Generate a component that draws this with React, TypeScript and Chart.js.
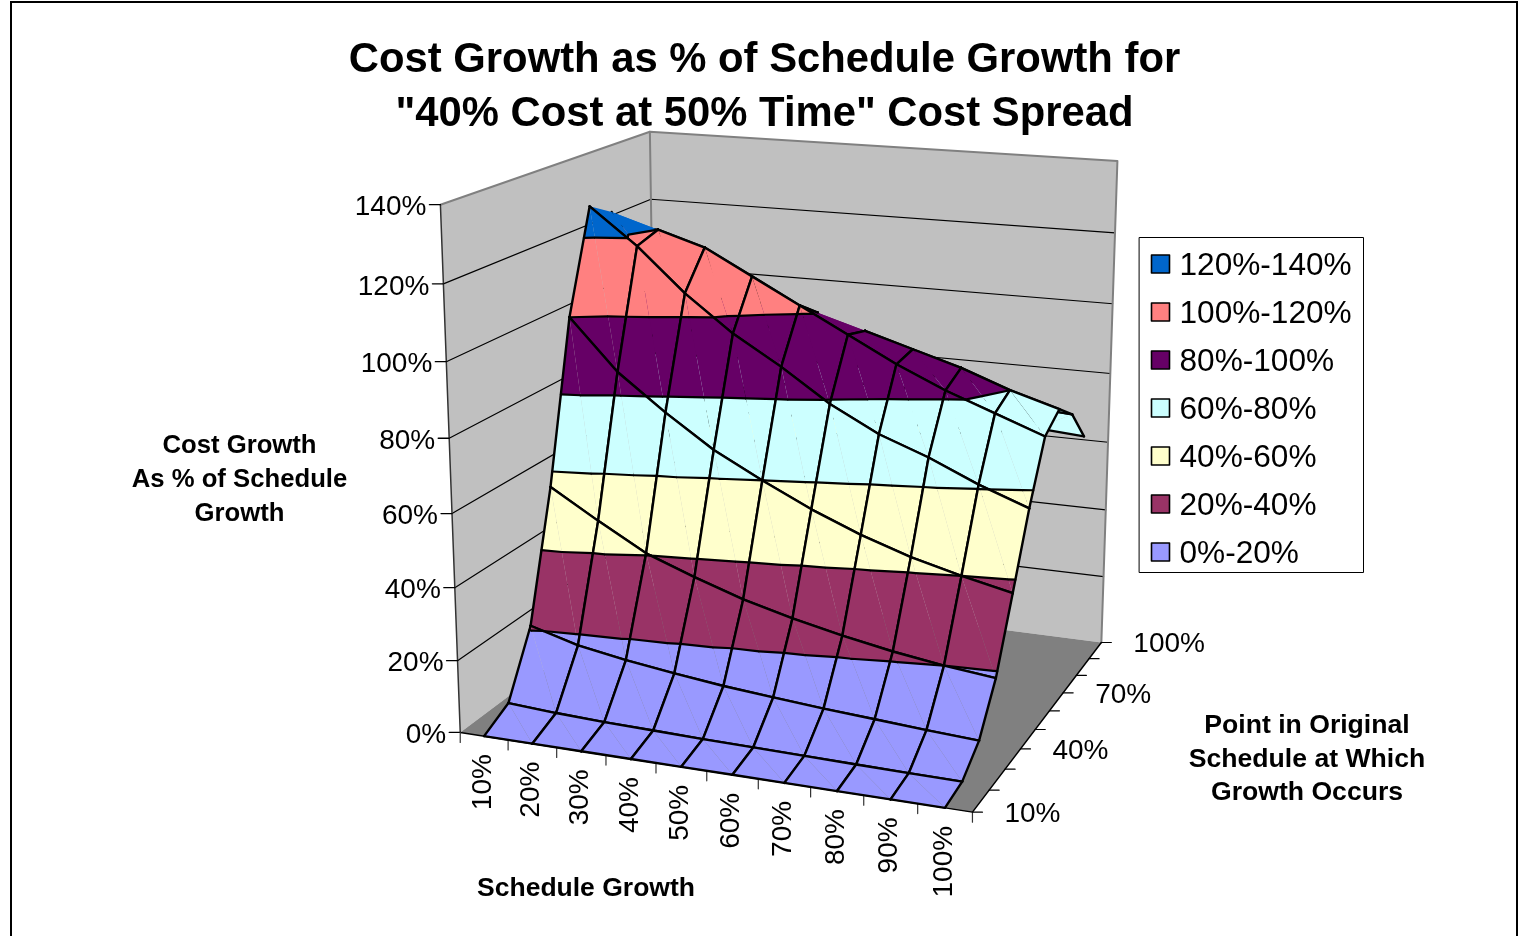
import React, { useEffect, useRef } from "react";
import { Chart, registerables } from "chart.js";
Chart.register(...registerables);

const titleLines = ["Cost Growth as % of Schedule Growth for", '"40% Cost at 50% Time" Cost Spread'];
const scheduleGrowth = ["10%","20%","30%","40%","50%","60%","70%","80%","90%","100%"];
const growthPoint = ["10%","20%","30%","40%","50%","60%","70%","80%","90%","100%"];
const costTicks = ["0%","20%","40%","60%","80%","100%","120%","140%"];
const bandLabels = ["0%-20%","20%-40%","40%-60%","60%-80%","80%-100%","100%-120%","120%-140%"];
const bandColors = ["#9999FF","#993366","#FFFFCC","#CCFFFF","#660066","#FF8080","#0066CC"];
const costTitle = ["Cost Growth","As % of Schedule","Growth"];
const pointTitle = ["Point in Original","Schedule at Which","Growth Occurs"];
const scheduleTitle = "Schedule Growth";

// Cost growth (%) per schedule growth column, one list per growth point
const at10 = [0,0,0,0,0,0,0,0,0,0];
const at20 = [4,3.2,2.7,2.4,2.1,1.9,1.7,1.5,1.3,1.2];
const at30 = [21,17.3,15,13.2,11.6,10.4,9.3,8.4,7.5,6.7];
const at40 = [56,48,40.5,35.5,31,27.5,24.5,22,20,18.5];
const at50 = [100,86,76,67,60,53.5,48,43.5,40,37];
const at60 = [128,118,106,96,88,79,72,67,61,56];
const at70 = [124,120,116,109,102,95,88,82,77,72];
const at80 = [85,88,90,92,97,93,89,85,80,76];
const at90 = [60,64,68,72,74,74,74,73,72,71];
const at100 = [45,47,50,52,55,56,58,59,62,61];
const surface = [at10,at20,at30,at40,at50,at60,at70,at80,at90,at100];

// Grid edges the surface leaves without an outline
const openEdges = new Set(["r6:0","c0:5","r7:4"]);

const costMax = 140;
// Known box positions [unit coordinates, canvas position] that fix the perspective
const boxAnchors: number[][] = [
  [0,0,0,461,733],[0,0,1/7,458,661],[0,0,2/7,455,588],[0,0,3/7,452,513],[0,0,4/7,449,437],[0,0,5/7,447,360],[0,0,6/7,443,284],[0,0,1,441,206],
  [0,1,1,650,131],[0,1,6/7,650,200],
  [1,1,1,1118,160],[1,1,6/7,1115,234],[1,1,5/7,1112,303],[1,1,4/7,1110,374],[1,1,3/7,1108,443],[1,1,2/7,1106,512],[1,1,1/7,1104,578],[1,1,0,1102,642],
  [.1,0,0,508,740],[.2,0,0,556,748],[.3,0,0,606,755],[.4,0,0,656,763],[.5,0,0,706,771],[.6,0,0,758,779],[.7,0,0,810,787],[.8,0,0,864,796],[.9,0,0,918,804],[1,0,0,972,812],
  [1,1/9,0,988,790],[1,2/9,0,1005,770],[1,3/9,0,1022,748],[1,4/9,0,1035,730],[1,5/9,0,1050,710],[1,6/9,0,1063,692],[1,7/9,0,1077,673],[1,8/9,0,1088,658],
];

// Least-squares 3x4 projection from the anchors
function solveCamera() {
  const n = 11;
  const A = Array.from({ length: n }, () => new Array(n + 1).fill(0));
  const add = (r: number[], b: number) => {
    for (let i = 0; i < n; i++) {
      for (let j = 0; j < n; j++) A[i][j] += r[i] * r[j];
      A[i][n] += r[i] * b;
    }
  };
  for (const [X, Y, Z, sx0, sy0] of boxAnchors) {
    const sx = sx0 / 1000, sy = sy0 / 1000;
    add([X,Y,Z,1,0,0,0,0,-sx*X,-sx*Y,-sx*Z], sx);
    add([0,0,0,0,X,Y,Z,1,-sy*X,-sy*Y,-sy*Z], sy);
  }
  for (let c = 0; c < n; c++) {
    let p = c;
    for (let r = c + 1; r < n; r++) if (Math.abs(A[r][c]) > Math.abs(A[p][c])) p = r;
    [A[c], A[p]] = [A[p], A[c]];
    for (let r = 0; r < n; r++) {
      if (r === c) continue;
      const f = A[r][c] / A[c][c];
      for (let k = c; k <= n; k++) A[r][k] -= f * A[c][k];
    }
  }
  return A.map((row, i) => row[n] / row[i]);
}
const M = solveCamera();
const project = (X: number, Y: number, Z: number) => {
  const d = M[8]*X + M[9]*Y + M[10]*Z + 1;
  return { x: 1000*(M[0]*X + M[1]*Y + M[2]*Z + M[3]) / d, y: 1000*(M[4]*X + M[5]*Y + M[6]*Z + M[7]) / d };
};

type V = { X: number; Y: number; W: number };
const gridV = (i: number, j: number): V => ({ X: (i + .5) / 10, Y: j / 9, W: surface[j][i] });
const lerpV = (a: V, b: V, t: number): V => ({ X: a.X + (b.X - a.X)*t, Y: a.Y + (b.Y - a.Y)*t, W: a.W + (b.W - a.W)*t });
function clip(p: V[], lim: number, keepBelow: boolean) {
  const out: V[] = [];
  const inside = (v: V) => keepBelow ? v.W <= lim : v.W >= lim;
  p.forEach((a, k) => {
    const b = p[(k + 1) % p.length];
    if (inside(a)) out.push(a);
    if (inside(a) !== inside(b)) out.push(lerpV(a, b, (lim - a.W) / (b.W - a.W)));
  });
  return out;
}
const band = (tri: V[], k: number) => {
  const p = clip(tri, k*20, false);
  return p.length ? clip(p, (k + 1)*20, true) : p;
};
const trianglesOf = (i: number, j: number) => {
  const a = gridV(i, j), b = gridV(i + 1, j), c = gridV(i + 1, j + 1), d = gridV(i, j + 1);
  return [[a, b, d], [b, c, d]];
};
const bandPoints = (k: number) => {
  const pts: { x: number; y: number }[] = [];
  for (let j = 0; j < 9; j++) for (let i = 0; i < 9; i++) for (const tri of trianglesOf(i, j))
    band(tri, k).forEach(v => pts.push(project(v.X, v.Y, v.W / costMax)));
  return pts;
};

const sans = "'Liberation Sans'";

const App = () => {
  const ref = useRef<HTMLCanvasElement>(null);
  useEffect(() => {
    document.body.style.margin = "0";
    const painter = {
      id: "surfacePainter",
      beforeDatasetsDraw(chart: any) {
        const ctx = chart.ctx;
        const toPx = (p: { x: number; y: number }) => [chart.scales.x.getPixelForValue(p.x), chart.scales.y.getPixelForValue(p.y)];
        const px = (X: number, Y: number, Z: number) => toPx(project(X, Y, Z));
        const poly = (pts: number[][], fill: string) => {
          ctx.beginPath();
          pts.forEach((q, i) => i ? ctx.lineTo(q[0], q[1]) : ctx.moveTo(q[0], q[1]));
          ctx.closePath(); ctx.fillStyle = fill; ctx.fill();
        };
        const line = (pts: number[][], c: string, w: number) => {
          ctx.beginPath();
          pts.forEach((q, i) => i ? ctx.lineTo(q[0], q[1]) : ctx.moveTo(q[0], q[1]));
          ctx.strokeStyle = c; ctx.lineWidth = w; ctx.stroke();
        };
        const text = (s: string, x: number, y: number, font: string, align: string) => {
          ctx.font = font; ctx.textAlign = align; ctx.textBaseline = "middle"; ctx.fillStyle = "#000";
          ctx.fillText(s, x, y);
        };
        ctx.save();
        ctx.lineJoin = "round"; ctx.lineCap = "round";

        // Chart frame
        ctx.fillStyle = "#000";
        ctx.fillRect(10, 1, 1508, 2); ctx.fillRect(10, 1, 2, 935); ctx.fillRect(1516, 1, 2, 935);

        // Walls, floor and gridlines
        poly([px(0,0,0),px(0,1,0),px(0,1,1),px(0,0,1)], "#C0C0C0");
        poly([px(0,1,0),px(1,1,0),px(1,1,1),px(0,1,1)], "#C0C0C0");
        poly([px(0,0,0),px(1,0,0),px(1,1,0),px(0,1,0)], "#808080");
        for (let k = 1; k < 7; k++) line([px(0,0,k/7),px(0,1,k/7),px(1,1,k/7)], "#000", 1.2);
        line([px(0,0,1),px(0,1,1),px(1,1,1),px(1,1,0)], "#808080", 2);
        line([px(0,1,0),px(0,1,1)], "#808080", 2);
        line([px(0,0,0),px(0,0,1)], "#333", 1.5);
        line([px(0,0,0),px(1,0,0),px(1,1,0)], "#000", 1.5);

        // Cost axis ticks and labels
        costTicks.forEach((s, k) => {
          const [x, y] = px(0, 0, k/7);
          line([[x - 11, y], [x, y]], "#000", 1.3);
          text(s, x - 14, y + 3, `28px ${sans}`, "right");
        });
        // Schedule growth ticks and rotated labels
        for (let i = 0; i <= 10; i++) {
          const [x, y] = px(i/10, 0, 0);
          line([[x, y], [x, y + 10]], "#333", 1.2);
        }
        scheduleGrowth.forEach((s, i) => {
          const [x, y] = px((i + .5)/10, 0, 0);
          ctx.save(); ctx.translate(x - 1, y + 18); ctx.rotate(-Math.PI/2);
          text(s, 0, 0, `28px ${sans}`, "right");
          ctx.restore();
        });
        // Growth point ticks, every third label
        growthPoint.forEach((s, j) => {
          const [x, y] = px(1, j/9, 0);
          line([[x, y], [x + 10, y]], "#000", 1.2);
          if (j % 3 === 0) text(s, x + 32, y + 2, `28px ${sans}`, "left");
        });

        // Surface, painted from the far row forward; each triangle is cut into its bands
        const V2 = (v: V) => px(v.X, v.Y, v.W / costMax);
        const edge = (key: string, p: V, q: V) => { if (!openEdges.has(key)) line([V2(p), V2(q)], "#000", 2.4); };
        for (let j = 8; j >= 0; j--) for (let i = 0; i < 9; i++) {
          for (const tri of trianglesOf(i, j)) {
            bandColors.forEach((col, k) => {
              const p = band(tri, k);
              if (p.length > 2) poly(p.map(V2), col);
            });
            for (let k = 1; k < 7; k++) {
              const p = clip(clip(tri, k*20 - .001, false), k*20 + .001, true);
              if (p.length >= 2) line(p.map(V2), "#000", 2.2);
            }
          }
          edge(`r${j}:${i}`, gridV(i, j), gridV(i + 1, j));
          edge(`r${j + 1}:${i}`, gridV(i, j + 1), gridV(i + 1, j + 1));
          edge(`c${i}:${j}`, gridV(i, j), gridV(i, j + 1));
          edge(`c${i + 1}:${j}`, gridV(i + 1, j), gridV(i + 1, j + 1));
        }

        // Axis titles
        costTitle.forEach((s, k) => text(s, 239.5, 446 + k*34, `bold 25.7px ${sans}`, "center"));
        pointTitle.forEach((s, k) => text(s, 1307, 726 + k*33.5, `bold 26.6px ${sans}`, "center"));
        text(scheduleTitle, 586, 889, `bold 26.5px ${sans}`, "center");

        // Legend, highest band first
        ctx.fillStyle = "#fff"; ctx.fillRect(1139.5, 237.5, 224, 335);
        ctx.strokeStyle = "#000"; ctx.lineWidth = 1; ctx.strokeRect(1139.5, 237.5, 224, 335);
        [...bandLabels].reverse().forEach((s, k) => {
          const y = 264 + k*48, col = bandColors[bandColors.length - 1 - k];
          ctx.fillStyle = col; ctx.fillRect(1151.5, y - 9, 18, 18);
          ctx.strokeStyle = "#000"; ctx.lineWidth = 1.6; ctx.strokeRect(1151.5, y - 9, 18, 18);
          text(s, 1179.5, y + 2, `31.6px ${sans}`, "left");
        });
        ctx.restore();
      },
    };
    const chart = new Chart(ref.current!, {
      type: "scatter",
      data: { datasets: bandLabels.map((l, i) => ({ label: l, data: bandPoints(i), backgroundColor: bandColors[i], pointRadius: 0, showLine: false })) },
      options: {
        animation: false, responsive: false, layout: { padding: { left: 11 } },
        scales: { x: { display: false, min: 11, max: 1518 }, y: { display: false, min: 141, max: 936, reverse: true } },
        plugins: {
          legend: { display: false }, tooltip: { enabled: false },
          title: { display: true, text: titleLines, color: "#000",
            font: { family: sans, size: 41.8, weight: "bold", lineHeight: 54/41.8 }, padding: { top: 33, bottom: 0 } },
        },
      },
      plugins: [painter],
    });
    return () => chart.destroy();
  }, []);
  return <canvas ref={ref} width={1518} height={936} style={{ display: "block" }} />;
};
export default App;
